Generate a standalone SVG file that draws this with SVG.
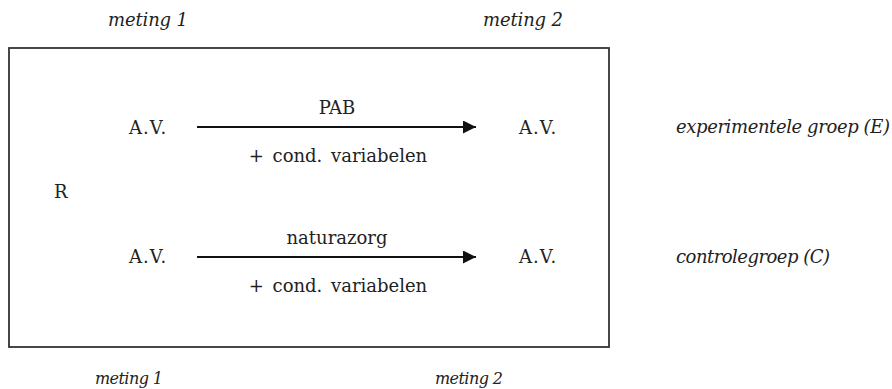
<svg xmlns="http://www.w3.org/2000/svg" width="892" height="389" viewBox="0 0 892 389">
  <defs>
    <style>
      text { font-family: "DejaVu Serif", "Liberation Serif", serif; font-size: 18px; fill: #222; }
      .it { font-style: italic; }
      .small { font-size: 16px; }
      .mid { text-anchor: middle; }
      .av { letter-spacing: 1px; }
      .cond { word-spacing: 3px; }
      .frame { fill: none; stroke: #333; stroke-width: 1.8; }
      .conn { stroke: #111; stroke-width: 2; fill: none; }
    </style>
    <marker id="head" markerWidth="13" markerHeight="13" refX="13" refY="6.5" orient="auto" markerUnits="userSpaceOnUse">
      <path d="M0,0 L13,6.5 L0,13 Z" fill="#111"/>
    </marker>
  </defs>

  <!-- measurement headings -->
  <g id="heading-top">
    <text class="it" x="108" y="26" textLength="80">meting 1</text>
    <text class="it" x="483" y="26" textLength="80">meting 2</text>
  </g>
  <g id="heading-bottom">
    <text class="it small" x="95" y="384" textLength="68">meting 1</text>
    <text class="it small" x="435" y="384" textLength="68">meting 2</text>
  </g>

  <!-- design frame -->
  <rect id="frame" class="frame" x="9" y="48" width="600" height="299"/>

  <g id="randomisation">
    <text x="54" y="198">R</text>
  </g>

  <!-- experimental group -->
  <g id="exp-pre"><text class="av" x="129" y="134">A.V.</text></g>
  <g id="exp-post"><text class="av" x="519" y="134">A.V.</text></g>
  <g id="exp-label"><text class="it" x="676" y="133" textLength="214">experimentele groep (E)</text></g>

  <!-- control group -->
  <g id="ctl-pre"><text class="av" x="129" y="263">A.V.</text></g>
  <g id="ctl-post"><text class="av" x="519" y="263">A.V.</text></g>
  <g id="ctl-label"><text class="it" x="676" y="263" textLength="154">controlegroep (C)</text></g>

  <!-- connectors -->
  <g id="connectors">
    <g id="exp-arrow">
      <line class="conn" x1="197" y1="127" x2="476" y2="127" marker-end="url(#head)"/>
      <text class="mid" x="337" y="114">PAB</text>
      <text class="mid cond" x="338" y="162">+ cond. variabelen</text>
    </g>
    <g id="ctl-arrow">
      <line class="conn" x1="197" y1="257" x2="476" y2="257" marker-end="url(#head)"/>
      <text class="mid" x="337" y="244">naturazorg</text>
      <text class="mid cond" x="338" y="292">+ cond. variabelen</text>
    </g>
  </g>
</svg>
